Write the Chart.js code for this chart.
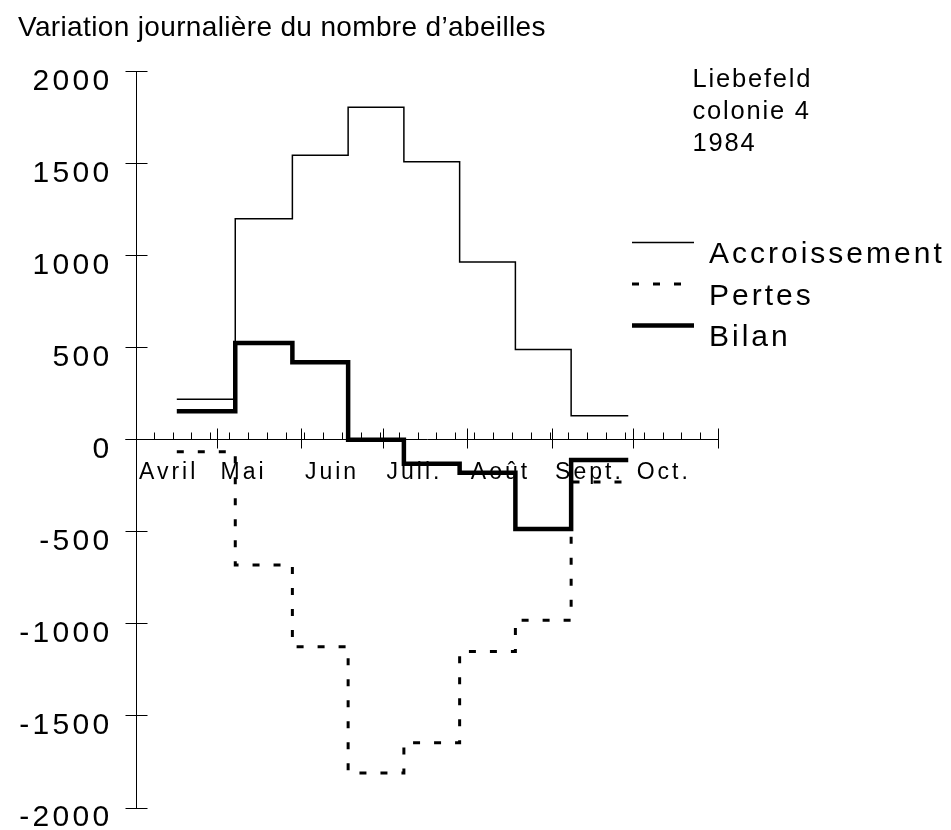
<!DOCTYPE html>
<html>
<head>
<meta charset="utf-8">
<script src="https://cdn.jsdelivr.net/npm/chart.js@4"></script>
<style>
  html, body { margin: 0; padding: 0; background: #fff; }
</style>
</head>
<body>
<canvas id="myChart" width="951" height="830"></canvas>
<script>
// jours comptés depuis le 1er avril
let monthStarts = [0, 30, 61, 91, 122, 153, 183, 214];
let monthLabels = ["Avril", "Mai", "Juin", "Juil.", "Août", "Sept.", "Oct."];

// périodes de mesure (début de chaque palier, fin du dernier)
let periodStarts = [15, 36.5, 57.5, 78, 98.5, 119, 139.5, 160];
let periodEnd = 181;

let accroissement = [220, 1200, 1545, 1805, 1510, 965, 490, 130];
let pertes = [-65, -680, -1125, -1810, -1645, -1150, -980, -230];
let bilan = [155, 525, 420, 0, -130, -180, -485, -110];

let noteLines = ["Liebefeld", "colonie 4", "1984"];

function steps(values) {
    let pts = values.map((v, i) => ({ x: periodStarts[i], y: v }));
    pts.push({ x: periodEnd, y: values[values.length - 1] });
    return pts;
}

function withSpacing(obj, name, px) {
    if (!obj || obj['_sp_' + name]) return;
    let orig = obj[name];
    obj[name] = function () {
        let ctx = this.ctx;
        let prev = ctx.letterSpacing;
        ctx.letterSpacing = px + 'px';
        let r = orig.apply(this, arguments);
        ctx.letterSpacing = prev || '0px';
        return r;
    };
    obj['_sp_' + name] = true;
}

// petit échantillon de trait pour la légende, un peu au-dessus du milieu du texte
function legendSample(ds) {
    let c = document.createElement('canvas');
    c.width = 62;
    c.height = 40;
    let g = c.getContext('2d');
    g.strokeStyle = ds.borderColor;
    g.lineWidth = ds.borderWidth;
    g.setLineDash(ds.borderDash || []);
    g.beginPath();
    g.moveTo(0, 7.5);
    g.lineTo(62, 7.5);
    g.stroke();
    return c;
}

const FONT = "'Liberation Sans', Arial, Helvetica, sans-serif";
Chart.defaults.font.family = FONT;
Chart.defaults.color = '#000';

// traits des axes et texte d'annotation
let axisMarks = {
    id: 'axisMarks',
    afterLayout(chart) {
        let lg = chart.legend;
        lg.left = 620.5;
        lg.right = 951;
        lg.width = lg.right - lg.left;
        lg.top = 228.5;
        lg.bottom = lg.top + 300;
    },
    beforeDraw(chart) {
        withSpacing(chart.titleBlock, 'draw', 0.35);
        withSpacing(chart.legend, 'draw', 3);
        withSpacing(chart.scales.y, 'drawLabels', 3.3);
        withSpacing(chart.scales.x, 'drawLabels', 3);
    },
    beforeDatasetsDraw(chart) {
        let ctx = chart.ctx;
        let x = chart.scales.x, y = chart.scales.y;
        let al = p => Math.round(p - 0.5) + 0.5;
        let x0 = al(x.getPixelForValue(0));
        let y0 = al(y.getPixelForValue(0));
        ctx.save();
        ctx.strokeStyle = '#000';
        ctx.lineWidth = 1;
        ctx.beginPath();
        ctx.moveTo(x0 - 11, y0);
        ctx.lineTo(x0, y0);
        y.ticks.forEach(t => {
            let py = al(y.getPixelForValue(t.value));
            ctx.moveTo(x0 - 11, py);
            ctx.lineTo(x0 + 11, py);
        });
        monthStarts.forEach(d => {
            let px = al(x.getPixelForValue(d));
            ctx.moveTo(px, y0 - 11);
            ctx.lineTo(px, y0 + 9);
        });
        for (let d = 6.7; d < 214; d += 6.93) {
            let px = al(x.getPixelForValue(d));
            ctx.moveTo(px, y0 - 7);
            ctx.lineTo(px, y0);
        }
        ctx.stroke();

        ctx.fillStyle = '#000';
        ctx.font = '25.5px ' + FONT;
        ctx.letterSpacing = '1.8px';
        ctx.textAlign = 'left';
        ctx.textBaseline = 'alphabetic';
        noteLines.forEach((s, i) => ctx.fillText(s, 692.5, 86.5 + 32 * i));
        ctx.restore();
    }
};

let myChart = document.getElementById("myChart").getContext('2d');

let chart1 = new Chart(myChart, {
    type: 'line',
    data: {
        datasets: [{
            label: "Accroissement",
            data: steps(accroissement),
            borderColor: '#000',
            borderWidth: 1.5,
            stepped: 'before',
            pointRadius: 0,
            fill: false
        }, {
            label: "Pertes",
            data: steps(pertes),
            borderColor: '#000',
            borderWidth: 3,
            borderDash: [7, 14],
            stepped: 'before',
            pointRadius: 0,
            fill: false
        }, {
            label: "Bilan",
            data: steps(bilan),
            borderColor: '#000',
            borderWidth: 4.5,
            stepped: 'before',
            pointRadius: 0,
            fill: false
        }]
    },
    options: {
        responsive: false,
        animation: false,
        devicePixelRatio: 1,
        layout: {
            padding: { left: 18, right: 233, top: 0, bottom: 22 }
        },
        scales: {
            x: {
                type: 'linear',
                position: { y: 0 },
                min: 0,
                max: 214,
                afterBuildTicks: s => { s.ticks = monthStarts.slice(0, 7).map(v => ({ value: v })); },
                afterFit: s => { s.height = 0; s.paddingLeft = 0; s.paddingRight = 0; },
                grid: { drawOnChartArea: false, drawTicks: false },
                border: { color: '#000', width: 1 },
                ticks: {
                    autoSkip: false,
                    maxRotation: 0,
                    align: 'start',
                    labelOffset: 3,
                    padding: 19.5,
                    color: '#000',
                    font: { size: 23 },
                    callback: (v, i) => monthLabels[i]
                }
            },
            y: {
                position: 'left',
                min: -2000,
                max: 2000,
                afterFit: s => { s.width = 118; s.paddingTop = 0; s.paddingBottom = 0; },
                grid: { drawOnChartArea: false, drawTicks: false },
                border: { color: '#000', width: 1 },
                ticks: {
                    stepSize: 500,
                    padding: 23.5,
                    labelOffset: 10,
                    color: '#000',
                    font: { size: 30 },
                    callback: v => String(v)
                }
            }
        },
        plugins: {
            title: {
                display: true,
                text: "Variation journalière du nombre d’abeilles",
                align: 'start',
                color: '#000',
                font: { size: 28, weight: 'normal' },
                padding: { top: 11.5, bottom: 26.3 }
            },
            legend: {
                position: 'chartArea',
                align: 'start',
                labels: {
                    usePointStyle: true,
                    pointStyleWidth: 62,
                    padding: 11.5,
                    color: '#000',
                    font: { size: 30 },
                    generateLabels: chart => chart.data.datasets.map((ds, i) => ({
                        text: ds.label,
                        fillStyle: 'rgba(0,0,0,0)',
                        strokeStyle: ds.borderColor,
                        lineWidth: 0,
                        pointStyle: legendSample(ds),
                        hidden: false,
                        fontColor: '#000',
                        datasetIndex: i
                    }))
                }
            },
            tooltip: { enabled: false }
        }
    },
    plugins: [axisMarks]
});
</script>
</body>
</html>
